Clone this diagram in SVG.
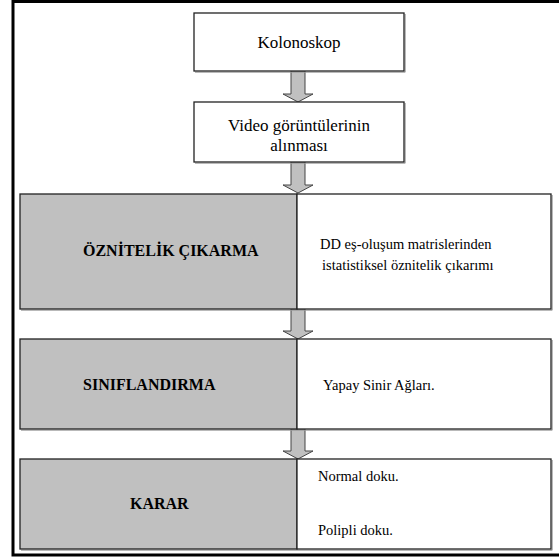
<svg xmlns="http://www.w3.org/2000/svg" width="559" height="558" viewBox="0 0 559 558">
<style>
.box{fill:#fff;stroke:#222;stroke-width:1.3}
.gray{fill:#c0c0c0;stroke:#222;stroke-width:1.3}
.sh{fill:none;stroke:#9a9a9a;stroke-width:1}
.arr{fill:#c0c0c0;stroke:#444;stroke-width:1}
.t{font-family:"Liberation Serif","Times New Roman",serif;fill:#000}
.top{font-size:17px}
.r{font-size:14.5px}
.b{font-size:16px;font-weight:bold}
</style>
<rect x="0" y="0" width="559" height="558" fill="#fff"/>
<path d="M560,1.5 H13 V555 H560" fill="none" stroke="#000" stroke-width="3"/>
<g id="connectors">
<path class="arr" d="M291,71 H305 V94 H313 L298,102 L283,94 H291 Z"/>
<path class="arr" d="M291,162 H305 V185 H313 L298,193 L283,185 H291 Z"/>
<path class="arr" d="M291,309 H305 V331 H313 L298,339 L283,331 H291 Z"/>
<path class="arr" d="M291,429 H305 V451 H313 L298,459 L283,451 H291 Z"/>
</g>
<g id="kolonoskop">
<path class="sh" d="M195,72.2 H405.2 V14"/>
<rect class="box" x="194" y="13" width="210" height="58"/>
<text class="t top" x="299" y="48" text-anchor="middle" font-family="Liberation Serif, serif">Kolonoskop</text>
</g>
<g id="video">
<path class="sh" d="M195,163.2 H405.2 V103"/>
<rect class="box" x="194" y="102" width="210" height="60"/>
<text class="t top" x="299" y="131" text-anchor="middle" font-family="Liberation Serif, serif">Video görüntülerinin</text>
<text class="t top" x="299" y="151" text-anchor="middle" font-family="Liberation Serif, serif">alınması</text>
</g>
<g id="oznitelik">
<path class="sh" d="M21,310.2 H552.2 V195"/>
<rect class="gray" x="20" y="194" width="277" height="115"/>
<rect class="box" x="297" y="194" width="254" height="115"/>
<text class="t b" x="83" y="256" font-family="Liberation Serif, serif">ÖZNİTELİK ÇIKARMA</text>
<text class="t r" x="320" y="249" font-family="Liberation Serif, serif">DD eş-oluşum matrislerinden</text>
<text class="t r" x="322" y="270" font-family="Liberation Serif, serif">istatistiksel öznitelik çıkarımı</text>
</g>
<g id="siniflandirma">
<path class="sh" d="M21,430.2 H552.2 V340"/>
<rect class="gray" x="20" y="339" width="277" height="90"/>
<rect class="box" x="297" y="339" width="254" height="90"/>
<text class="t b" x="83" y="390" font-family="Liberation Serif, serif">SINIFLANDIRMA</text>
<text class="t r" x="323" y="390" font-family="Liberation Serif, serif">Yapay Sinir Ağları.</text>
</g>
<g id="karar">
<path class="sh" d="M21,550.2 H552.2 V460"/>
<rect class="gray" x="20" y="459" width="277" height="90"/>
<rect class="box" x="297" y="459" width="254" height="90"/>
<text class="t b" x="130" y="509" font-family="Liberation Serif, serif">KARAR</text>
<text class="t r" x="318" y="481" font-family="Liberation Serif, serif">Normal doku.</text>
<text class="t r" x="318" y="535" font-family="Liberation Serif, serif">Polipli doku.</text>
</g>
</svg>
